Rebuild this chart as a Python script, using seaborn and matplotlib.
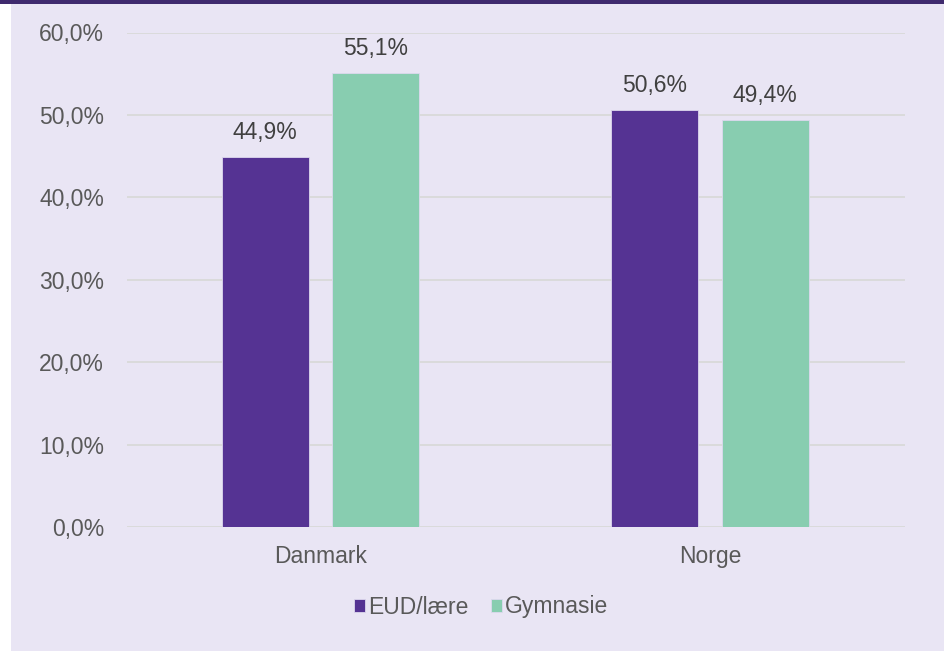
import matplotlib
matplotlib.use("Agg")
import matplotlib.pyplot as plt
import seaborn as sns
import pandas as pd
from matplotlib.patches import Rectangle

categories = ["Danmark", "Norge"]
series = ["EUD/lære", "Gymnasie"]
eud = [44.9, 50.6]
gym = [55.1, 49.4]
yticks = [0, 10, 20, 30, 40, 50, 60]
colors = ["#553393", "#88cdb0"]

df = pd.DataFrame({
    "land": categories * 2,
    "type": [series[0]] * 2 + [series[1]] * 2,
    "val": eud + gym,
})

sns.set_style("white")
plt.rcParams["font.family"] = ["Liberation Sans", "DejaVu Sans"]
bg = "#e9e5f4"
fs = 16.5
fig = plt.figure(figsize=(9.44, 6.51), dpi=100, facecolor="white")
fig.patches.append(Rectangle((11/944, 0), 1 - 11/944, 1, transform=fig.transFigure,
                             facecolor=bg, edgecolor="none", zorder=-10))
fig.patches.append(Rectangle((0, 1 - 4/651), 1, 4/651, transform=fig.transFigure,
                             facecolor="#3f2a6e", edgecolor="none", zorder=-9))

L, R = 127/944, 905/944
B, T = 1 - 527/651, 1 - 32.5/651
ax = fig.add_axes([L, B, R - L, T - B])
ax.set_facecolor("none")

sns.barplot(data=df, x="land", y="val", hue="type", palette=colors, saturation=1,
            width=0.567, gap=0.21, ax=ax, legend=True, edgecolor="#ddd8ee", linewidth=0.6,
            zorder=3)

ax.set_ylim(0, 60)
ax.set_xlim(-(320.5 - 127) / 389.5, 1 + (905 - 710) / 389.5)
ax.set_yticks(yticks)
ax.set_yticklabels([f"{v:.1f}".replace(".", ",") + "%" for v in yticks])
for v in yticks:
    ax.axhline(v, color="#d9d9d9", lw=1.3, zorder=1)
for s in ax.spines.values():
    s.set_visible(False)
ax.tick_params(axis="both", length=0, colors="#595959", labelsize=fs)
ax.tick_params(axis="y", pad=16.5)
ax.tick_params(axis="x", pad=13)
ax.set_xlabel("")
ax.set_ylabel("")

for cont in ax.containers:
    labels = [f"{b.get_height():.1f}".replace(".", ",") + "%" for b in cont]
    ax.bar_label(cont, labels=labels, padding=9.5, fontsize=fs, color="#404040")

h, l = ax.get_legend_handles_labels()
ax.legend(h, l, loc="center", bbox_to_anchor=(481/944, 1 - 607/651),
          bbox_transform=fig.transFigure, ncol=2, frameon=False, fontsize=fs,
          handlelength=0.5, handleheight=0.5, handletextpad=0.12, columnspacing=1.0,
          labelcolor="#595959")

fig.savefig("out.png", dpi=100, facecolor="white")
